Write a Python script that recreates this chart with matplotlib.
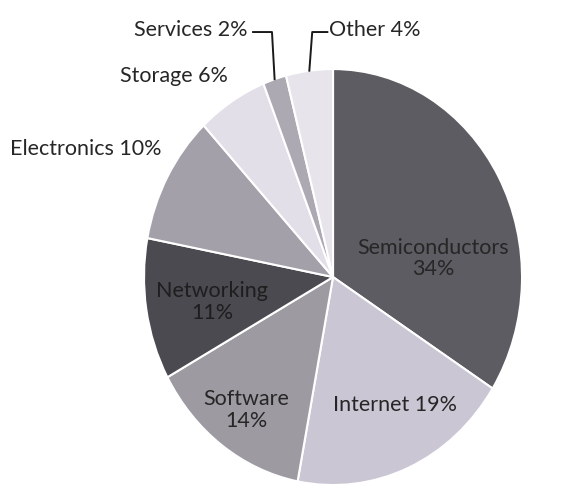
import matplotlib
matplotlib.use("Agg")
import matplotlib.pyplot as plt
import numpy as np

plt.rcParams['font.family'] = ['Lato', 'DejaVu Sans']

sectors = ['Semiconductors', 'Internet', 'Software', 'Networking',
           'Electronics', 'Storage', 'Services', 'Other']
shares = [34, 19, 14, 11, 10, 6, 2, 4]
colors = ['#5c5c62', '#cbc6d4', '#9d9aa2', '#4a4a50',
          '#a4a0aa', '#e2dfe8', '#aca9b3', '#e7e4eb']

fig = plt.figure(figsize=(5.67, 4.84), dpi=100)
ax = fig.add_axes([0, 0, 1, 1])

wedges, _ = ax.pie(shares, colors=colors, startangle=90, counterclock=False,
                   wedgeprops=dict(edgecolor='white', linewidth=1.5))
ax.set_aspect('auto')
ax.set_xlim(-1.762, 1.238)
ax.set_ylim(-0.995, 1.332)
ax.axis('off')

txt = dict(fontsize=15.5, color='#262626', ha='center', va='center', linespacing=1.1)

# labels inside the big slices
inside = {
    'Semiconductors': (0.53, 0.09, '\n'),
    'Internet': (0.33, -0.615, ' '),
    'Software': (-0.46, -0.64, '\n'),
    'Networking': (-0.64, -0.12, '\n'),
}
for name, pct in zip(sectors, shares):
    if name in inside:
        x, y, sep = inside[name]
        c = '#1e1e1e' if name == 'Networking' else '#262626'
        ax.text(x, y, f'{name}{sep}{pct}%', **{**txt, 'color': c})

# outside labels
ax.text(-1.307, 0.615, f'{sectors[4]} {shares[4]}%', **txt)
ax.text(-0.84, 0.965, f'{sectors[5]} {shares[5]}%', **txt)
ax.text(-0.45, 1.19, f'{sectors[6]} {shares[6]}%', **{**txt, 'ha': 'right'})
ax.text(-0.02, 1.19, f'{sectors[7]} {shares[7]}%', **{**txt, 'ha': 'left'})

# leader lines for the two thin slices
line_y = 1.178
for w, (xa, xb) in [(wedges[6], (-0.423, -0.323)), (wedges[7], (-0.03, -0.11))]:
    mid = np.deg2rad((w.theta1 + w.theta2) / 2)
    ax.plot([xa, xb, np.cos(mid)], [line_y, line_y, np.sin(mid)],
            color='#1a1a1a', lw=1.4, clip_on=False)

fig.savefig('out.png', dpi=100)
